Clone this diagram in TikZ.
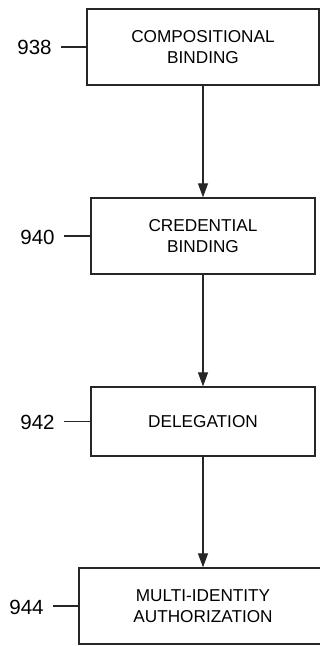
\documentclass[tikz,border=0pt]{standalone}
\usepackage{fontspec}
\setmainfont{Liberation Sans}
\usetikzlibrary{arrows.meta,positioning}

\begin{document}
\begin{tikzpicture}[x=0.75pt,y=-0.75pt,>={Triangle[length=10.5pt,width=7.5pt]},
  box/.style={draw=black!85,line width=1pt,fill=white,minimum height=57pt,align=center,
    font=\fontsize{12.9pt}{15.5pt}\selectfont,inner sep=0pt},
  num/.style={font=\fontsize{15.4pt}{18pt}\selectfont,inner sep=0pt},
  tick/.style={draw=black!85,line width=0.9pt}]
\useasboundingbox (0,0) rectangle (320,646);
\node[box,minimum width=174pt] (b938) at (203,47) {COMPOSITIONAL\\BINDING};
\node[box,minimum width=168pt] (b940) at (203,236) {CREDENTIAL\\BINDING};
\node[box,minimum width=168pt,minimum height=51.75pt] (b942) at (203,421.5) {DELEGATION};
\node[box,minimum width=186pt] (b944) at (203,606) {MULTI-IDENTITY\\AUTHORIZATION};
\node[num] (l938) at (34.5,47) {938};
\node[num] (l940) at (37.5,237) {940};
\node[num] (l942) at (37.5,422) {942};
\node[num] (l944) at (26.5,607) {944};
\foreach \n in {938,940,942,944}{\draw[tick] ([xshift=7pt]l\n.east |- b\n.west) -- (b\n.west);}
\draw[->,draw=black!85,line width=0.9pt] (b938.south) -- (b940.north);
\draw[->,draw=black!85,line width=0.9pt] (b940.south) -- (b942.north);
\draw[->,draw=black!85,line width=0.9pt] (b942.south) -- (b944.north);
\end{tikzpicture}
\end{document}
